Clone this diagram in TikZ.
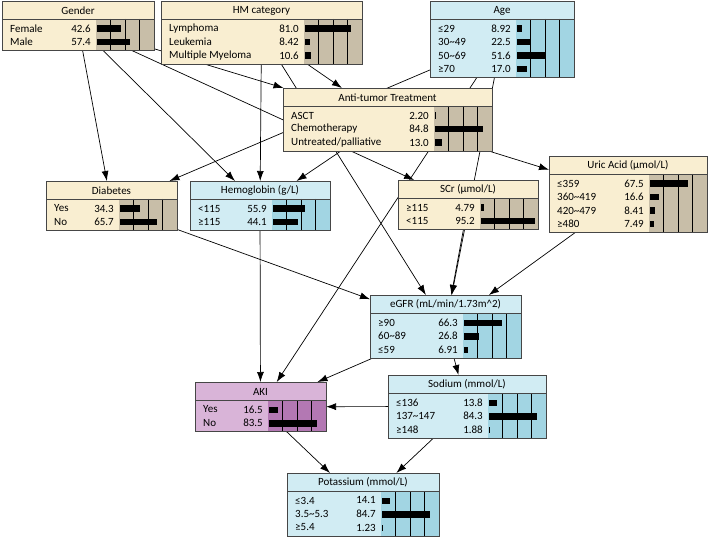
\documentclass[tikz,border=0pt]{standalone}
\usepackage{fontspec}
\setmainfont{Carlito}
\usetikzlibrary{arrows.meta}

\definecolor{tanbody}{RGB}{249,238,209}
\definecolor{tanbar}{RGB}{200,190,168}
\definecolor{bluebody}{RGB}{209,236,243}
\definecolor{bluebar}{RGB}{162,213,227}
\definecolor{pinkbody}{RGB}{217,180,216}
\definecolor{pinkbar}{RGB}{179,120,179}
\definecolor{frame}{RGB}{70,70,70}

\pgfdeclarelayer{background}
\pgfsetlayers{background,main}

% #1 name, #2 colour set, #3 x, #4 y, #5 width, #6 rows, #7 title, #8 label/value list
\newcommand{\bnnode}[8]{%
  \pgfmathsetmacro{\bnh}{18+13.5*#6+4.5}
  \pgfmathsetmacro{\bnbar}{#3+#5-58}
  \node[bnframe, fill=#2body, minimum width=#5, minimum height=\bnh,
    anchor=north west] (#1) at (#3,#4) {};
  \fill[#2bar] (\bnbar,#4+18) rectangle (#3+#5,#4+\bnh);
  \foreach \k in {1,2,3}
    \draw[gridline] (\bnbar+14.5*\k,#4+18) -- (\bnbar+14.5*\k,#4+\bnh);
  \draw[bnframe] (#3,#4+18) -- (#3+#5,#4+18);
  \node[bntext] at (#3+#5/2,#4+9.5) {#7};
  \foreach [count=\i] \lab/\val in {#8} {
    \pgfmathsetmacro{\rowy}{#4+18+9.5+13.5*(\i-1)}
    \node[bntext, anchor=west] at (#3+7,\rowy) {\lab};
    \node[bntext, anchor=east] at (\bnbar-4,\rowy) {\val};
    \fill (\bnbar+1,\rowy-3) rectangle ++(\val*0.57,6.5);
  }
  \draw[bnframe] (#1.north west) rectangle (#1.south east);
}

\begin{document}
\begin{tikzpicture}[x=1pt,y=-1pt,font=\fontsize{11}{13}\selectfont,
  bnframe/.style={draw=frame,line width=0.9pt,outer sep=0pt,inner sep=0pt},
  gridline/.style={draw=black,line width=0.7pt},
  bntext/.style={inner sep=1pt}]

  \useasboundingbox (0,0) rectangle (709,537);

  \bnnode{G}{tan}{2}{1}{152}{2}{Gender}{Female/42.6, Male/57.4}
  \bnnode{HM}{tan}{161}{1}{201}{3}{HM category}
    {Lymphoma/81.0, Leukemia/8.42, Multiple Myeloma/10.6}
  \bnnode{AGE}{blue}{430}{1}{144}{4}{Age}
    {≤29/8.92, 30\textasciitilde49/22.5, 50\textasciitilde69/51.6, ≥70/17.0}
  \bnnode{ANT}{tan}{283}{88}{209}{3}{Anti-tumor Treatment}
    {ASCT/2.20, Chemotherapy/84.8, {Untreated/palliative}/13.0}
  \bnnode{DIA}{tan}{46}{181}{131}{2}{Diabetes}{Yes/34.3, No/65.7}
  \bnnode{HB}{blue}{190}{181}{140}{2}{Hemoglobin (g/L)}{<115/55.9, ≥115/44.1}
  \bnnode{SCR}{tan}{398}{180}{140}{2}{SCr (µmol/L)}{≥115/4.79, <115/95.2}
  \bnnode{UA}{tan}{549}{156}{158}{4}{Uric Acid (µmol/L)}
    {≤359/67.5, 360\textasciitilde419/16.6, 420\textasciitilde479/8.41, ≥480/7.49}
  \bnnode{EGFR}{blue}{370}{295}{151}{3}{eGFR (mL/min/1.73m\textasciicircum2)}
    {≥90/66.3, 60\textasciitilde89/26.8, ≤59/6.91}
  \bnnode{AKI}{pink}{195}{382}{131}{2}{AKI}{Yes/16.5, No/83.5}
  \bnnode{NA}{blue}{388}{375}{158}{3}{Sodium (mmol/L)}
    {≤136/13.8, 137\textasciitilde147/84.3, ≥148/1.88}
  \bnnode{K}{blue}{287}{473}{152}{3}{Potassium (mmol/L)}
    {≤3.4/14.1, 3.5\textasciitilde5.3/84.7, ≥5.4/1.23}

  \begin{pgfonlayer}{background}
  \path[->,>={Latex[length=10pt,width=7pt]},line width=0.7pt]
    (G) edge (DIA) edge (HB) edge (ANT) edge (SCR)
    (HM) edge (HB) edge (ANT) edge (EGFR)
    (AGE) edge (DIA) edge (AKI) edge (EGFR)
    (ANT) edge (HB) edge (UA)
    (DIA) edge (EGFR)
    (HB) edge (AKI)
    (SCR) edge (EGFR)
    (UA) edge (EGFR)
    (EGFR) edge (AKI) edge (NA)
    (NA) edge (AKI) edge (K)
    (AKI) edge (K);
  \end{pgfonlayer}

\end{tikzpicture}
\end{document}
